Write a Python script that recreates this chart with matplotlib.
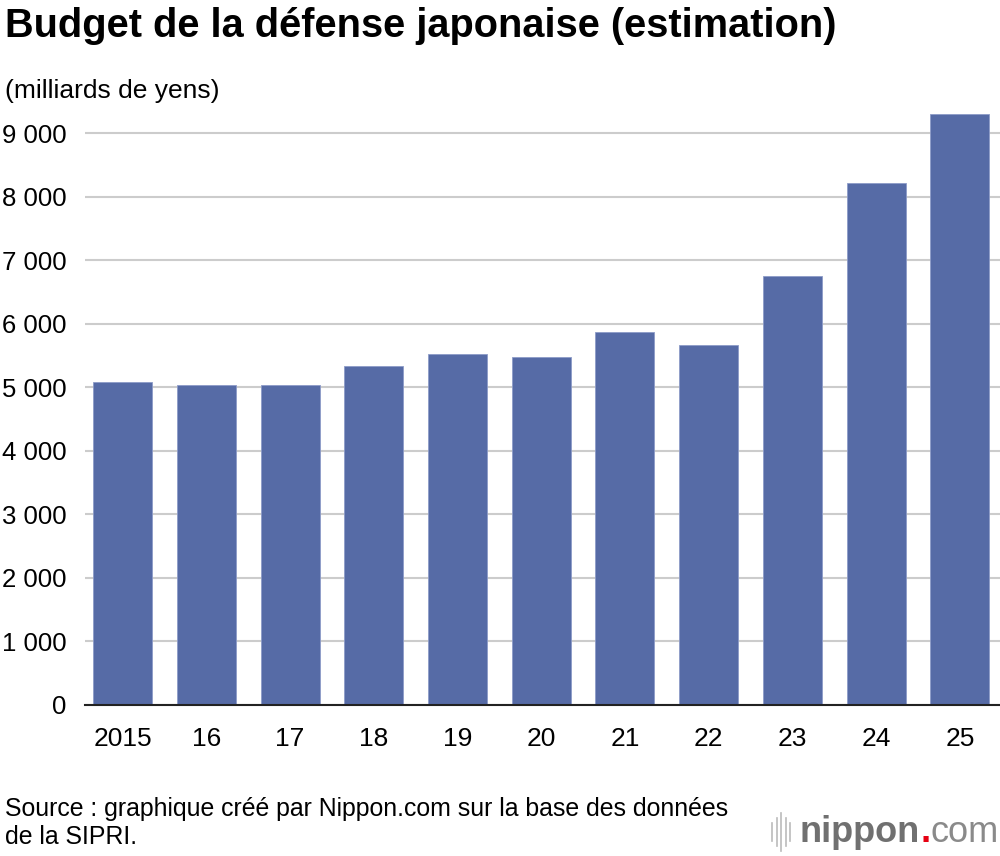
import matplotlib.pyplot as plt
from matplotlib.lines import Line2D

plt.rcParams['font.family'] = ['Liberation Sans', 'DejaVu Sans']

years = ['2015', '16', '17', '18', '19', '20', '21', '22', '23', '24', '25']
budget = [5080, 5045, 5045, 5340, 5525, 5485, 5880, 5670, 6750, 8215, 9300]
yticks = [0, 1000, 2000, 3000, 4000, 5000, 6000, 7000, 8000, 9000]
ytick_labels = ['0', '1 000', '2 000', '3 000', '4 000', '5 000',
                '6 000', '7 000', '8 000', '9 000']

bar_color = '#566ba6'

fig = plt.figure(figsize=(10, 8.56), dpi=100)
ax = fig.add_axes([0.085, 1 - 705 / 856, 0.915, (705 - 108) / 856])

x = range(len(years))
ax.bar(x, budget, width=0.705, color=bar_color, edgecolor='#8d9bc8',
       linewidth=0.6, zorder=3)

ax.set_xlim(-0.45, 10.48)
ax.set_ylim(0, 9400)
ax.set_yticks(yticks)
ax.set_yticklabels(ytick_labels)
ax.set_xticks(list(x))
ax.set_xticklabels(years)
ax.grid(axis='y', color='#cccccc', linewidth=1.5, zorder=0)
ax.tick_params(axis='x', length=0, labelsize=19, colors='black', pad=16)
ax.tick_params(axis='y', length=0, labelsize=18.5, colors='black', pad=13.5)
for s in ['top', 'right', 'left']:
    ax.spines[s].set_visible(False)
ax.spines['bottom'].set_linewidth(1.5)
ax.spines['bottom'].set_color('#222222')
ax.spines['bottom'].set_zorder(4)

fig.text(0.005, 1 - 26 / 856, 'Budget de la défense japonaise (estimation)',
         fontsize=28.6, fontweight='bold', va='center', ha='left')
fig.text(0.005, 1 - 91 / 856, '(milliards de yens)', fontsize=19,
         va='center', ha='left')
fig.text(0.005, 1 - 823 / 856,
         'Source : graphique créé par Nippon.com sur la base des données\nde la SIPRI.',
         fontsize=17.9, va='center', ha='left', linespacing=1.25)

# logo nippon.com
lx = 0.772
for i, h in enumerate([0.010, 0.016, 0.022, 0.016, 0.010]):
    xx = lx + i * 0.0045
    fig.add_artist(Line2D([xx, xx], [1 - 832 / 856 - h, 1 - 832 / 856 + h],
                          color='#bbbbbb', linewidth=1.2))
t1 = fig.text(0.800, 1 - 832 / 856, 'nippon', fontsize=26, fontweight='bold',
              color='#707070', va='center', ha='left')
fig.canvas.draw()
bb = t1.get_window_extent().transformed(fig.transFigure.inverted())
t2 = fig.text(bb.x1, 1 - 832 / 856, '.', fontsize=26, color='#e60012',
              va='center', ha='left', fontweight='bold')
fig.canvas.draw()
bb2 = t2.get_window_extent().transformed(fig.transFigure.inverted())
fig.text(bb2.x1, 1 - 832 / 856, 'com', fontsize=26, color='#8a8a8a',
         va='center', ha='left')

fig.savefig('out.png', dpi=100, facecolor='white')
